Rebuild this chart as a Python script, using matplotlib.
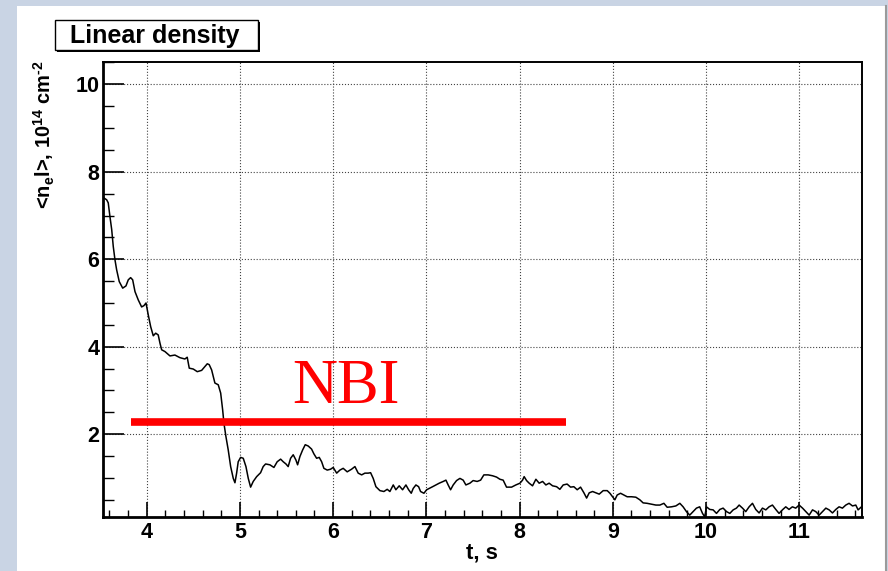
"""
Linear density time trace with the NBI heating window marked (ROOT-style canvas)
"""

import matplotlib
matplotlib.use('Agg')
import matplotlib.pyplot as plt
import matplotlib.patches as mpatches
from matplotlib.ticker import MultipleLocator

# time, s
t = [3.543, 3.571, 3.588, 3.606, 3.625, 3.642, 3.660, 3.678, 3.706, 3.743,
     3.778, 3.803, 3.828, 3.850, 3.875, 3.910, 3.946, 3.971, 3.993, 4.017,
     4.043, 4.071, 4.097, 4.124, 4.143, 4.161, 4.196, 4.250, 4.303, 4.357,
     4.410, 4.435, 4.457, 4.500, 4.543, 4.590, 4.650, 4.671, 4.697, 4.732,
     4.768, 4.794, 4.815, 4.829, 4.850, 4.875, 4.901, 4.929, 4.947, 4.965,
     4.982, 5.008, 5.036, 5.065, 5.090, 5.115, 5.143, 5.180, 5.222, 5.250,
     5.276, 5.322, 5.365, 5.400, 5.437, 5.465, 5.494, 5.518, 5.544, 5.572,
     5.601, 5.619, 5.644, 5.673, 5.701, 5.733, 5.769, 5.794, 5.823, 5.851,
     5.877, 5.901, 5.937, 5.973, 6.001, 6.038, 6.073, 6.108, 6.151, 6.198,
     6.234, 6.269, 6.306, 6.341, 6.376, 6.402, 6.430, 6.459, 6.502, 6.545,
     6.580, 6.609, 6.645, 6.673, 6.709, 6.745, 6.781, 6.810, 6.838, 6.859,
     6.888, 6.917, 6.938, 6.974, 7.003, 7.031, 7.067, 7.102, 7.138, 7.181,
     7.210, 7.234, 7.260, 7.288, 7.324, 7.360, 7.395, 7.424, 7.467, 7.502,
     7.545, 7.582, 7.617, 7.663, 7.710, 7.753, 7.789, 7.824, 7.860, 7.914,
     7.960, 8.004, 8.032, 8.049, 8.075, 8.103, 8.139, 8.175, 8.210, 8.247,
     8.282, 8.317, 8.354, 8.397, 8.432, 8.468, 8.510, 8.547, 8.582, 8.618,
     8.654, 8.690, 8.719, 8.747, 8.783, 8.818, 8.854, 8.897, 8.940, 8.969,
     8.997, 9.022, 9.047, 9.083, 9.118, 9.154, 9.201, 9.247, 9.290, 9.325,
     9.368, 9.415, 9.462, 9.505, 9.548, 9.583, 9.630, 9.676, 9.719, 9.754,
     9.790, 9.825, 9.861, 9.897, 9.932, 9.962, 9.986, 10.004, 10.040, 10.076,
     10.112, 10.148, 10.183, 10.220, 10.255, 10.291, 10.326, 10.355, 10.391, 10.426,
     10.462, 10.498, 10.533, 10.569, 10.605, 10.641, 10.676, 10.712, 10.748, 10.783,
     10.819, 10.855, 10.890, 10.926, 10.962, 10.998, 11.035, 11.070, 11.106, 11.142,
     11.177, 11.213, 11.249, 11.285, 11.320, 11.356, 11.392, 11.427, 11.463, 11.499,
     11.534, 11.571, 11.606, 11.631, 11.667]

# <n_e l>, 10^14 cm^-2
ne = [7.40, 7.36, 7.29, 6.98, 6.68, 6.29, 5.99, 5.76, 5.49, 5.34,
      5.39, 5.53, 5.58, 5.53, 5.26, 5.07, 4.91, 4.94, 5.00, 4.73,
      4.46, 4.25, 4.31, 4.27, 4.08, 3.93, 3.89, 3.79, 3.81, 3.75,
      3.72, 3.76, 3.51, 3.49, 3.43, 3.46, 3.61, 3.59, 3.47, 3.17,
      3.13, 2.94, 2.56, 2.25, 1.95, 1.64, 1.26, 0.99, 0.89, 1.11,
      1.37, 1.47, 1.45, 1.26, 0.99, 0.79, 0.92, 1.03, 1.12, 1.26,
      1.32, 1.30, 1.24, 1.37, 1.43, 1.37, 1.32, 1.26, 1.45, 1.53,
      1.41, 1.30, 1.49, 1.64, 1.76, 1.73, 1.66, 1.55, 1.45, 1.47,
      1.37, 1.22, 1.18, 1.20, 1.24, 1.11, 1.18, 1.22, 1.14, 1.20,
      1.26, 1.11, 1.07, 1.11, 1.11, 1.12, 0.99, 0.80, 0.71, 0.69,
      0.74, 0.69, 0.84, 0.73, 0.82, 0.73, 0.84, 0.73, 0.65, 0.76,
      0.84, 0.80, 0.69, 0.65, 0.73, 0.76, 0.80, 0.84, 0.88, 0.92,
      0.95, 0.84, 0.73, 0.84, 0.94, 0.99, 0.95, 0.84, 0.88, 0.94,
      0.92, 0.95, 1.07, 1.07, 1.05, 1.02, 0.97, 0.95, 0.79, 0.79,
      0.84, 0.88, 0.95, 1.03, 0.94, 0.88, 0.82, 0.97, 0.88, 0.92,
      0.84, 0.88, 0.82, 0.80, 0.74, 0.84, 0.86, 0.79, 0.80, 0.73,
      0.79, 0.66, 0.54, 0.66, 0.69, 0.66, 0.63, 0.71, 0.71, 0.65,
      0.57, 0.50, 0.61, 0.65, 0.61, 0.57, 0.57, 0.56, 0.50, 0.43,
      0.42, 0.40, 0.38, 0.38, 0.42, 0.33, 0.34, 0.36, 0.42, 0.34,
      0.23, 0.15, 0.23, 0.31, 0.34, 0.19, 0.11, 0.34, 0.28, 0.27,
      0.19, 0.28, 0.31, 0.23, 0.19, 0.27, 0.31, 0.38, 0.31, 0.23,
      0.34, 0.42, 0.28, 0.20, 0.31, 0.27, 0.34, 0.38, 0.28, 0.19,
      0.27, 0.34, 0.28, 0.34, 0.31, 0.38, 0.31, 0.23, 0.15, 0.27,
      0.23, 0.15, 0.23, 0.31, 0.27, 0.20, 0.28, 0.34, 0.31, 0.38,
      0.42, 0.36, 0.38, 0.27, 0.34]

# NBI heating window
nbi_t = [3.83, 8.50]
nbi_level = [2.28, 2.28]
nbi_label = 'NBI'

x_ticks = [4, 5, 6, 7, 8, 9, 10, 11]
y_ticks = [2, 4, 6, 8, 10]

W, H = 888, 571
SANS = 'Liberation Sans'

plt.rcParams['mathtext.fontset'] = 'custom'
plt.rcParams['mathtext.rm'] = 'Liberation Sans:bold'
plt.rcParams['mathtext.bf'] = 'Liberation Sans:bold'
plt.rcParams['mathtext.it'] = 'Liberation Sans:bold'


def px_box(x0, y0, x1, y1):
    """pixel box (top-left origin) -> figure fraction rect"""
    return (x0 / W, 1 - y1 / H), (x1 - x0) / W, (y1 - y0) / H


fig = plt.figure(figsize=(W / 100, H / 100), dpi=100, facecolor='#c9d4e4')

# white ROOT canvas (behind the axes)
xy, w, h = px_box(17, 6, 885, 571)
fig.patches.append(mpatches.Rectangle(xy, w, h, transform=fig.transFigure,
                                      facecolor='white', edgecolor='none', zorder=-5))
fig.add_artist(plt.Line2D([885.5 / W, 885.5 / W], [0, 1 - 6 / H],
                          transform=fig.transFigure, color='#9a9a9a', lw=1.5, zorder=-4))

ax = fig.add_axes([103.3 / W, 1 - 516.7 / H, (862.3 - 103.3) / W, (516.7 - 62) / H])
ax.set_facecolor('white')

ax.plot(t, ne, color='black', lw=1.1, zorder=3)
ax.plot(nbi_t, nbi_level, color='#ff0000', lw=5.5, solid_capstyle='butt', zorder=4)
ax.text(6.14, 2.71, nbi_label, color='#ff0000', fontsize=45,
        family='Liberation Serif', ha='center', va='baseline', zorder=5)

ax.set_xlim(3.535, 11.676)
ax.set_ylim(0.114, 10.51)

ax.set_xticks(x_ticks)
ax.set_yticks(y_ticks)
ax.xaxis.set_minor_locator(MultipleLocator(0.2))
ax.yaxis.set_minor_locator(MultipleLocator(0.5))
ax.tick_params(axis='x', which='major', direction='in', length=11, width=1.2, pad=4)
ax.tick_params(axis='x', which='minor', direction='in', length=5, width=1.0)
ax.tick_params(axis='y', which='major', direction='in', length=15, width=1.2, pad=3)
ax.tick_params(axis='y', which='minor', direction='in', length=8, width=1.0)
ax.tick_params(top=False, right=False, which='both')
for lab in ax.get_xticklabels() + ax.get_yticklabels():
    lab.set_family(SANS)
    lab.set_fontweight('bold')
    lab.set_fontsize(15.5)

ax.grid(True, which='major', linestyle=':', color='#444444', lw=0.8)
ax.set_axisbelow(True)

for side in ['left', 'bottom']:
    ax.spines[side].set_linewidth(2.0)
for side in ['top', 'right']:
    ax.spines[side].set_linewidth(1.4)

# axis titles
fig.text(482 / W, 1 - 553 / H, 't, s', family=SANS, fontweight='bold',
         fontsize=16, ha='center', va='center')
fig.text(44 / W, 1 - 60 / H, r'<n$_\mathrm{e}$l>, 10$^\mathrm{14}$ cm$^\text{-2}$',
         family=SANS, fontweight='bold', fontsize=14.5, rotation=90,
         ha='center', va='top')

# title box with shadow
xy, w, h = px_box(57, 22, 260, 52)
fig.patches.append(mpatches.Rectangle(xy, w, h, transform=fig.transFigure,
                                      facecolor='black', edgecolor='none', zorder=5))
xy, w, h = px_box(55, 20, 258, 50)
fig.patches.append(mpatches.Rectangle(xy, w, h, transform=fig.transFigure,
                                      facecolor='white', edgecolor='black', lw=1.0, zorder=6))
fig.text(155 / W, 1 - 35.5 / H, 'Linear density', family=SANS, fontweight='bold',
         fontsize=18, ha='center', va='center', zorder=7)

plt.savefig('out.png', dpi=100, facecolor=fig.get_facecolor())
plt.close()
